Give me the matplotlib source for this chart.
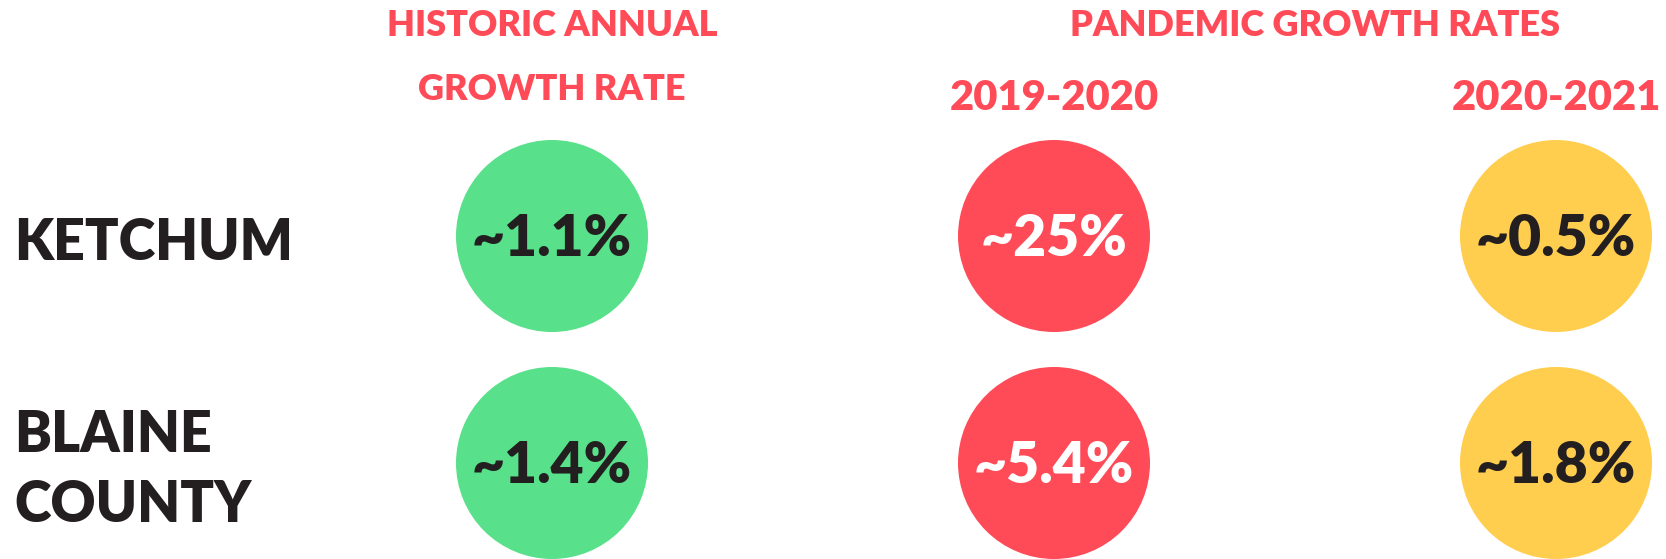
import matplotlib.pyplot as plt
from matplotlib.patches import Circle

# data
rows = ['KETCHUM', 'BLAINE\nCOUNTY']
first_header = ['HISTORIC ANNUAL', 'GROWTH RATE']
periods = ['2019-2020', '2020-2021']
group_header = 'PANDEMIC GROWTH RATES'
values = [['~1.1%', '~25%', '~0.5%'],
          ['~1.4%', '~5.4%', '~1.8%']]
fills = ['#58E08A', '#FF4B57', '#FFCE4E']
text_colors = ['#231F20', '#FFFFFF', '#231F20']

# layout (pixel space)
W, H = 1666, 559
col_x = [552, 1054, 1556]
row_y = [236, 463]
radius = 96
dark = '#231F20'
red = '#FF4B57'
font = 'Lato'

fig = plt.figure(figsize=(W / 100, H / 100), dpi=100)
ax = fig.add_axes([0, 0, 1, 1])
ax.set_xlim(0, W)
ax.set_ylim(H, 0)
ax.axis('off')

for i, row in enumerate(rows):
    ax.text(14, row_y[i] + 7, row, ha='left', va='center', fontsize=40,
            fontweight='heavy', color=dark, family=font, linespacing=1.42)
    for j in range(len(fills)):
        c = Circle((col_x[j], row_y[i]), radius, facecolor=fills[j],
                   edgecolor='none')
        ax.add_patch(c)
        ax.text(col_x[j], row_y[i] + 3, values[i][j], ha='center', va='center',
                fontsize=41, fontweight='heavy', color=text_colors[j],
                family=font)

# headers
for k, line in enumerate(first_header):
    ax.text(col_x[0], 25 + 65 * k, line, ha='center', va='center',
            fontsize=26, fontweight='heavy', color=red, family=font)
ax.text((col_x[1] + col_x[2]) / 2 + 10, 25, group_header, ha='center',
        va='center', fontsize=26, fontweight='heavy', color=red, family=font)
for j, p in enumerate(periods):
    ax.text(col_x[j + 1], 98, p, ha='center', va='center', fontsize=30,
            fontweight='heavy', color=red, family=font)

fig.savefig('out.png', dpi=100)
